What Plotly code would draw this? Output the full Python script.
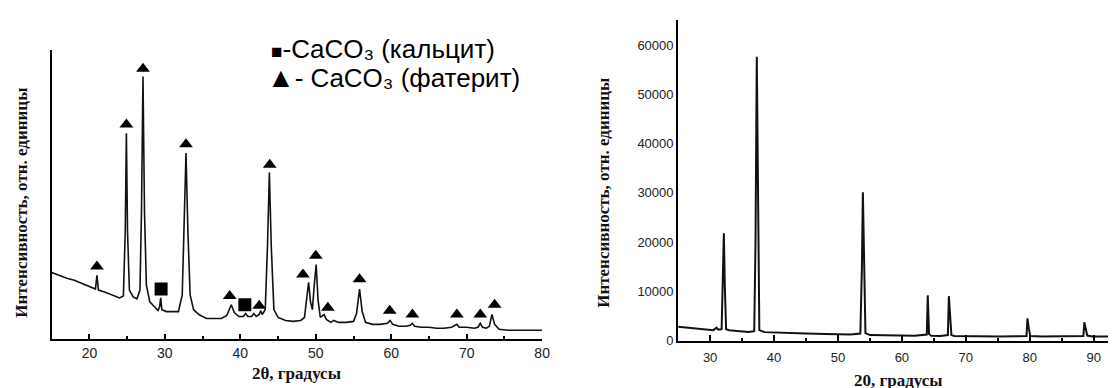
import plotly.graph_objects as go

W, H = 1116, 388

# ---------------- Left panel: CaCO3 (vaterite + calcite) ----------------
left_two_theta = [15.0, 16.0, 17.0, 18.0, 19.0, 20.0, 20.8, 21.0, 21.2, 22.0, 23.0, 24.0, 24.5,
                  24.75, 24.9, 25.05, 25.3, 25.8, 26.3, 26.7, 26.9, 27.1, 27.3, 27.55, 28.0,
                  28.6, 29.1, 29.3, 29.45, 29.6, 30.2, 31.0, 31.8, 32.3, 32.55, 32.8, 33.05,
                  33.35, 33.8, 34.5, 35.5, 36.5, 37.5, 38.2, 38.5, 38.8, 39.2, 39.8, 40.4,
                  40.7, 41.0, 41.5, 41.8, 42.1, 42.5, 42.7, 42.9, 43.3, 43.6, 43.85, 44.1,
                  44.45, 45.0, 46.0, 47.0, 48.0, 48.5, 48.8, 49.05, 49.3, 49.55, 49.8, 50.05,
                  50.3, 50.6, 50.9, 51.1, 51.4, 52.0, 52.4, 53.0, 54.0, 55.0, 55.4, 55.8,
                  56.15, 56.6, 57.5, 58.5, 59.5, 59.85, 60.2, 61.0, 62.0, 62.5, 62.8, 63.1,
                  64.0, 65.0, 66.0, 67.0, 68.0, 68.4, 68.7, 69.0, 70.0, 71.0, 71.5, 71.8,
                  72.1, 72.6, 73.0, 73.35, 73.7, 74.3, 75.5, 77.0, 78.5, 80.0]
left_intensity = [68, 65, 62, 60, 57, 54, 51, 65, 50, 48, 45, 42, 44,
                  110, 210, 110, 50, 43, 41, 50, 130, 268, 130, 55, 38,
                  33, 29, 33, 42, 30, 28, 28, 28, 45, 110, 190, 110,
                  45, 30, 25, 21, 21, 21, 24, 30, 35, 27, 23, 23,
                  26, 23, 23, 26, 23, 25, 29, 25, 30, 95, 170, 95,
                  30, 22, 19, 18, 19, 22, 40, 58, 38, 30, 55, 76,
                  40, 22, 24, 25, 20, 17, 19, 17, 17, 18, 26, 51,
                  28, 17, 15, 15, 16, 19, 15, 13, 13, 14, 16, 13,
                  12, 12, 11, 11, 12, 14, 15, 12, 12, 11, 12, 16,
                  12, 11, 13, 25, 15, 10, 9, 9, 9, 9]

# marker positions (peak labels)
vaterite_x = [21.0, 24.9, 27.1, 32.8, 38.6, 42.5, 43.9, 48.3, 50.0, 51.6, 55.8, 59.8, 62.8, 68.7, 71.8, 73.7]
vaterite_y = [74, 219, 276, 199, 44, 34, 178, 66, 85, 32, 61, 29, 25, 25, 25, 35]
calcite_x = [29.5, 40.6]
calcite_y = [51, 35]

left_x_ticks = [20, 30, 40, 50, 60, 70, 80]

# ---------------- Right panel ----------------
right_two_theta = [25.0, 27.0, 29.0, 30.5, 31.0, 31.3, 31.8, 32.0, 32.15, 32.3, 32.5, 33.0, 34.0,
                   35.0, 36.0, 36.9, 37.1, 37.3, 37.5, 37.7, 38.5, 40.0, 42.0, 45.0, 48.0,
                   50.0, 52.0, 53.5, 53.75, 53.9, 54.05, 54.3, 55.0, 58.0, 60.0, 62.0, 63.9,
                   64.05, 64.25, 64.6, 66.0, 67.2, 67.35, 67.55, 67.75, 68.2, 70.0, 75.0,
                   79.5, 79.65, 79.85, 80.1, 82.0, 85.0, 88.4, 88.55, 88.75, 89.0, 89.8,
                   92.0, 93.5]
right_intensity = [2800, 2600, 2400, 2100, 2600, 2200, 2300, 11000, 21800, 11000, 2300, 2100, 2000,
                   1900, 1750, 1900, 20000, 57600, 20000, 2100, 1700, 1600, 1500, 1400, 1300,
                   1250, 1200, 1400, 15000, 30100, 15000, 1500, 1100, 1050, 1000, 950, 1200,
                   9200, 1300, 950, 900, 1100, 9000, 5200, 1100, 900, 850, 800,
                   900, 4500, 2500, 900, 800, 800, 900, 3700, 2200, 1000, 800,
                   800, 800]

right_x_ticks = [30, 40, 50, 60, 70, 80, 90]
right_y_ticks = [0, 10000, 20000, 30000, 40000, 50000, 60000]


def px_x(p):
    return p / W


def px_y(p):
    return 1 - p / H


tick_font = dict(family="Arial, Liberation Sans, sans-serif", size=14, color="#222222")
title_font = dict(family="Times New Roman, Liberation Serif, serif", size=17, color="#111111")
legend_font = dict(family="Arial, Liberation Sans, sans-serif", size=26, color="black")

fig = go.Figure()

fig.add_trace(go.Scatter(x=left_two_theta, y=left_intensity, mode="lines",
                         line=dict(color="#111111", width=1.6), xaxis="x", yaxis="y",
                         showlegend=False, hoverinfo="skip"))
fig.add_trace(go.Scatter(x=vaterite_x, y=vaterite_y, mode="markers",
                         marker=dict(symbol="triangle-up", size=12, color="black"),
                         xaxis="x", yaxis="y", showlegend=False, hoverinfo="skip"))
fig.add_trace(go.Scatter(x=calcite_x, y=calcite_y, mode="markers",
                         marker=dict(symbol="square", size=13, color="black"),
                         xaxis="x", yaxis="y", showlegend=False, hoverinfo="skip"))

fig.add_trace(go.Scatter(x=right_two_theta, y=right_intensity, mode="lines",
                         line=dict(color="#111111", width=2), xaxis="x2", yaxis="y2",
                         showlegend=False, hoverinfo="skip"))

axis_common = dict(showgrid=False, zeroline=False, showline=True, linecolor="black", linewidth=2)

fig.update_layout(
    width=W, height=H, autosize=False,
    margin=dict(l=0, r=0, t=0, b=0),
    paper_bgcolor="white", plot_bgcolor="white",
    xaxis=dict(domain=[px_x(44), px_x(538)], range=[15, 80], anchor="y",
               tickvals=left_x_ticks, ticks="inside", ticklen=5, tickwidth=1.5, tickcolor="black",
               minor=dict(dtick=5, tick0=15, ticks="inside", ticklen=3, tickwidth=1.5, tickcolor="black"),
               tickfont=tick_font, **axis_common),
    yaxis=dict(domain=[px_y(338), px_y(43)], range=[0, 295], anchor="x",
               showticklabels=False, ticks="", **axis_common),
    xaxis2=dict(domain=[px_x(675), 1.0], range=[25, 93.5], anchor="y2",
                tickvals=right_x_ticks, ticks="inside", ticklen=6, tickwidth=1.5, tickcolor="black",
                minor=dict(dtick=5, tick0=25, ticks="inside", ticklen=3, tickwidth=1.5, tickcolor="black"),
                tickfont=dict(family="Arial, Liberation Sans, sans-serif", size=13, color="#222222"),
                ticklabelstandoff=4, **axis_common),
    yaxis2=dict(domain=[px_y(339.5), px_y(12.7)], range=[0, 65000], anchor="x2",
                tickvals=right_y_ticks, ticktext=[str(v) for v in right_y_ticks], ticks="",
                tickfont=dict(family="Arial, Liberation Sans, sans-serif", size=13, color="#222222"),
                **axis_common),
)

annotations = [
    dict(text="<b>Интенсивность, отн. единицы</b>", x=px_x(14), y=px_y(199), textangle=-90,
         font=title_font),
    dict(text="<b>2θ, градусы</b>", x=px_x(291), y=px_y(373), font=title_font),
    dict(text="<b>Интенсивность, отн. единицы</b>", x=px_x(599), y=px_y(189), textangle=-90,
         font=dict(family="Times New Roman, Liberation Serif, serif", size=17, color="#111111")),
    dict(text="<b>20, градусы</b>", x=px_x(897), y=px_y(380), font=title_font),
    dict(text="<span style=\"font-size:19px\">■</span>-CaCO₃ (кальцит)", x=px_x(263), y=px_y(42),
         xanchor="left", font=legend_font),
    dict(text="<span style=\"font-size:28px\">▲</span>- CaCO₃ (фатерит)", x=px_x(259), y=px_y(71),
         xanchor="left", font=legend_font),
]
for a in annotations:
    a.setdefault("xanchor", "center")
    a.update(xref="paper", yref="paper", yanchor="middle", showarrow=False)
fig.update_layout(annotations=annotations)

fig.write_html("out.html", config={"displayModeBar": False})
